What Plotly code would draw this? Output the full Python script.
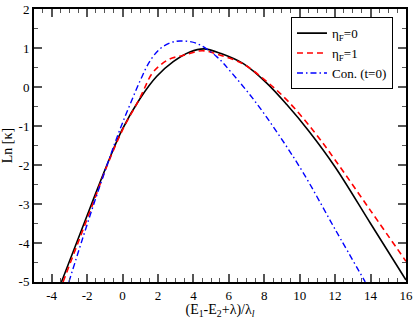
import plotly.graph_objects as go

# Data
black_x = [-3.45, -2.6, -1.75, -0.9, -0.03, 0.98, 1.92, 2.86, 3.8, 4.6, 5.56, 6.82, 8.14, 9.27, 10.5, 12.0, 14.0, 16.0]
black_y = [-5.0, -4.0, -3.0, -2.02, -1.1, -0.3, 0.27, 0.65, 0.9, 0.98, 0.86, 0.6, 0.1, -0.45, -1.12, -2.05, -3.5, -4.95]

red_x = [-3.36, -2.52, -1.68, -0.86, 0.02, 0.98, 1.64, 2.1, 2.66, 3.41, 4.5, 5.56, 6.82, 8.14, 9.27, 10.77, 12.0, 14.0, 16.0]
red_y = [-5.0, -4.0, -3.0, -2.0, -1.08, -0.28, 0.33, 0.55, 0.72, 0.81, 0.93, 0.81, 0.59, 0.14, -0.33, -1.12, -1.87, -3.17, -4.47]

blue_x = [-3.03, -2.3, -1.55, -0.82, -0.15, 0.42, 0.98, 1.55, 2.11, 2.67, 3.24, 4.18, 5.31, 6.13, 7.45, 8.78, 10.2, 12.0, 13.7]
blue_y = [-5.0, -3.95, -2.9, -1.93, -1.09, -0.45, 0.15, 0.67, 0.98, 1.13, 1.18, 1.12, 0.78, 0.38, -0.35, -1.2, -2.2, -3.65, -5.0]

y_ticks = [-5, -4, -3, -2, -1, 0, 1, 2]
x_ticks = [-4, -2, 0, 2, 4, 6, 8, 10, 12, 14, 16]

names = ["η<sub>F</sub>=0", "η<sub>F</sub>=1", "Con. (t=0)"]

FONT = "Liberation Serif"

fig = go.Figure()
fig.add_trace(go.Scatter(x=black_x, y=black_y, mode="lines", name=names[0],
                         line=dict(color="black", width=1.6, shape="spline", smoothing=1.0)))
fig.add_trace(go.Scatter(x=red_x, y=red_y, mode="lines", name=names[1],
                         line=dict(color="#ff0000", width=1.6, dash="6px,4px", shape="spline", smoothing=1.0)))
fig.add_trace(go.Scatter(x=blue_x, y=blue_y, mode="lines", name=names[2],
                         line=dict(color="#0000ff", width=1.4, dash="6px,3px,1.5px,3px", shape="spline", smoothing=1.0)))

axis_common = dict(
    showgrid=False, zeroline=False,
    showline=True, linecolor="black", linewidth=2, mirror="allticks",
    ticks="inside", ticklen=8, tickwidth=1.5, tickcolor="#555",
    tickfont=dict(family=FONT, size=13, color="black"),
    tickmode="array", ticklabeloverflow="allow",
)

fig.update_xaxes(range=[-5, 16.002], tickvals=x_ticks, ticktext=[str(v) for v in x_ticks],
                 minor=dict(tickmode="linear", dtick=0.5, tick0=0, ticks="inside", ticklen=4, tickwidth=1, tickcolor="#555"),
                 title=dict(text="(E<sub>1</sub>-E<sub>2</sub>+λ)/λ<sub><i>l</i></sub>",
                            font=dict(family=FONT, size=14, color="black"), standoff=2),
                 **axis_common)
fig.update_yaxes(range=[-5.002, 2.002], tickvals=y_ticks, ticktext=[str(v) for v in y_ticks],
                 minor=dict(tickmode="linear", dtick=0.5, tick0=0, ticks="inside", ticklen=4, tickwidth=1, tickcolor="#555"),
                 title=dict(text="Ln [κ]", font=dict(family=FONT, size=14, color="black"), standoff=6),
                 **axis_common)

fig.update_layout(
    width=415, height=319,
    margin=dict(l=34, r=9, t=9, b=37, autoexpand=False),
    paper_bgcolor="white", plot_bgcolor="white",
    showlegend=True,
    legend=dict(x=0.965, y=0.97, xanchor="right", yanchor="top",
                bgcolor="white", bordercolor="black", borderwidth=1,
                font=dict(family=FONT, size=13, color="black"),
                itemwidth=30, tracegroupgap=0),
    font=dict(family=FONT),
)

fig.write_html("out.html", config={"displayModeBar": False},
               post_script="document.body.style.margin='0';document.body.style.overflow='hidden';")
